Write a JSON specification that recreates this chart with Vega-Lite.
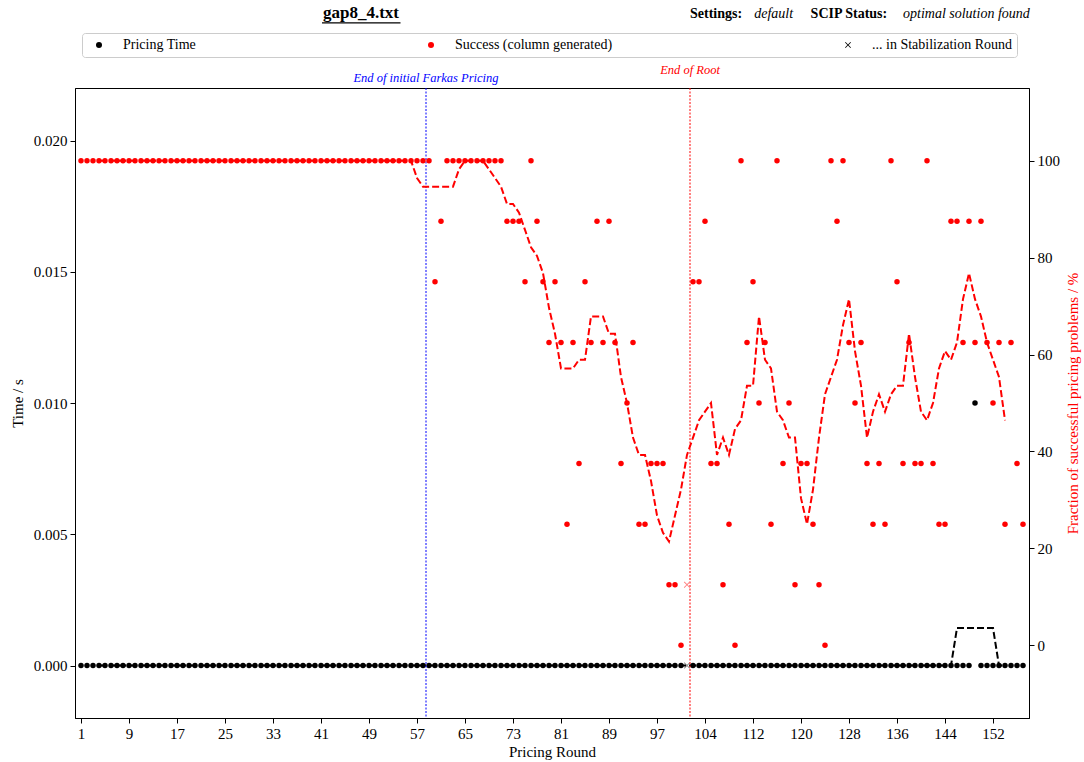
{
"$schema": "https://vega.github.io/schema/vega-lite/v6.json",
"width": 954, "height": 630,
"autosize": {"type": "none"},
"padding": {"left": 75, "top": 88, "right": 55, "bottom": 44},
"background": "white",
"config": {
  "font": "Liberation Serif",
  "view": {"stroke": "black", "strokeWidth": 1},
  "axis": {"grid": false, "domainColor": "black", "tickColor": "black", "labelColor": "black", "titleColor": "black", "labelFontSize": 15, "titleFontSize": 15, "titleFontWeight": "normal", "tickSize": 5, "labelPadding": 3, "labelFont": "Liberation Serif", "titleFont": "Liberation Serif"}
},
"datasets": {
"pts": [
{"i":0,"t":0,"s":100,"st":0},{"i":1,"t":0,"s":100,"st":0},{"i":2,"t":0,"s":100,"st":0},{"i":3,"t":0,"s":100,"st":0},{"i":4,"t":0,"s":100,"st":0},{"i":5,"t":0,"s":100,"st":0},{"i":6,"t":0,"s":100,"st":0},{"i":7,"t":0,"s":100,"st":0},{"i":8,"t":0,"s":100,"st":0},{"i":9,"t":0,"s":100,"st":0},
{"i":10,"t":0,"s":100,"st":0},{"i":11,"t":0,"s":100,"st":0},{"i":12,"t":0,"s":100,"st":0},{"i":13,"t":0,"s":100,"st":0},{"i":14,"t":0,"s":100,"st":0},{"i":15,"t":0,"s":100,"st":0},{"i":16,"t":0,"s":100,"st":0},{"i":17,"t":0,"s":100,"st":0},{"i":18,"t":0,"s":100,"st":0},{"i":19,"t":0,"s":100,"st":0},
{"i":20,"t":0,"s":100,"st":0},{"i":21,"t":0,"s":100,"st":0},{"i":22,"t":0,"s":100,"st":0},{"i":23,"t":0,"s":100,"st":0},{"i":24,"t":0,"s":100,"st":0},{"i":25,"t":0,"s":100,"st":0},{"i":26,"t":0,"s":100,"st":0},{"i":27,"t":0,"s":100,"st":0},{"i":28,"t":0,"s":100,"st":0},{"i":29,"t":0,"s":100,"st":0},
{"i":30,"t":0,"s":100,"st":0},{"i":31,"t":0,"s":100,"st":0},{"i":32,"t":0,"s":100,"st":0},{"i":33,"t":0,"s":100,"st":0},{"i":34,"t":0,"s":100,"st":0},{"i":35,"t":0,"s":100,"st":0},{"i":36,"t":0,"s":100,"st":0},{"i":37,"t":0,"s":100,"st":0},{"i":38,"t":0,"s":100,"st":0},{"i":39,"t":0,"s":100,"st":0},
{"i":40,"t":0,"s":100,"st":0},{"i":41,"t":0,"s":100,"st":0},{"i":42,"t":0,"s":100,"st":0},{"i":43,"t":0,"s":100,"st":0},{"i":44,"t":0,"s":100,"st":0},{"i":45,"t":0,"s":100,"st":0},{"i":46,"t":0,"s":100,"st":0},{"i":47,"t":0,"s":100,"st":0},{"i":48,"t":0,"s":100,"st":0},{"i":49,"t":0,"s":100,"st":0},
{"i":50,"t":0,"s":100,"st":0},{"i":51,"t":0,"s":100,"st":0},{"i":52,"t":0,"s":100,"st":0},{"i":53,"t":0,"s":100,"st":0},{"i":54,"t":0,"s":100,"st":0},{"i":55,"t":0,"s":100,"st":0},{"i":56,"t":0,"s":100,"st":0},{"i":57,"t":0,"s":100,"st":0},{"i":58,"t":0,"s":100,"st":0},{"i":59,"t":0,"s":75,"st":0},
{"i":60,"t":0,"s":87.5,"st":0},{"i":61,"t":0,"s":100,"st":0},{"i":62,"t":0,"s":100,"st":0},{"i":63,"t":0,"s":100,"st":0},{"i":64,"t":0,"s":100,"st":0},{"i":65,"t":0,"s":100,"st":0},{"i":66,"t":0,"s":100,"st":0},{"i":67,"t":0,"s":100,"st":0},{"i":68,"t":0,"s":100,"st":0},{"i":69,"t":0,"s":100,"st":0},
{"i":70,"t":0,"s":100,"st":0},{"i":71,"t":0,"s":87.5,"st":0},{"i":72,"t":0,"s":87.5,"st":0},{"i":73,"t":0,"s":87.5,"st":0},{"i":74,"t":0,"s":75,"st":0},{"i":75,"t":0,"s":100,"st":0},{"i":76,"t":0,"s":87.5,"st":0},{"i":77,"t":0,"s":75,"st":0},{"i":78,"t":0,"s":62.5,"st":0},{"i":79,"t":0,"s":75,"st":0},
{"i":80,"t":0,"s":62.5,"st":0},{"i":81,"t":0,"s":25,"st":0},{"i":82,"t":0,"s":62.5,"st":0},{"i":83,"t":0,"s":37.5,"st":0},{"i":84,"t":0,"s":75,"st":0},{"i":85,"t":0,"s":62.5,"st":0},{"i":86,"t":0,"s":87.5,"st":0},{"i":87,"t":0,"s":62.5,"st":0},{"i":88,"t":0,"s":87.5,"st":0},{"i":89,"t":0,"s":62.5,"st":0},
{"i":90,"t":0,"s":37.5,"st":0},{"i":91,"t":0,"s":50,"st":0},{"i":92,"t":0,"s":62.5,"st":0},{"i":93,"t":0,"s":25,"st":0},{"i":94,"t":0,"s":25,"st":0},{"i":95,"t":0,"s":37.5,"st":0},{"i":96,"t":0,"s":37.5,"st":0},{"i":97,"t":0,"s":37.5,"st":0},{"i":98,"t":0,"s":12.5,"st":0},{"i":99,"t":0,"s":12.5,"st":0},
{"i":100,"t":0,"s":0,"st":0},{"i":101,"t":0,"s":12.5,"st":1},{"i":102,"t":0,"s":75,"st":0},{"i":103,"t":0,"s":75,"st":0},{"i":104,"t":0,"s":87.5,"st":0},{"i":105,"t":0,"s":37.5,"st":0},{"i":106,"t":0,"s":37.5,"st":0},{"i":107,"t":0,"s":12.5,"st":0},{"i":108,"t":0,"s":25,"st":0},{"i":109,"t":0,"s":0,"st":0},
{"i":110,"t":0,"s":100,"st":0},{"i":111,"t":0,"s":62.5,"st":0},{"i":112,"t":0,"s":75,"st":0},{"i":113,"t":0,"s":50,"st":0},{"i":114,"t":0,"s":62.5,"st":0},{"i":115,"t":0,"s":25,"st":0},{"i":116,"t":0,"s":100,"st":0},{"i":117,"t":0,"s":37.5,"st":0},{"i":118,"t":0,"s":50,"st":0},{"i":119,"t":0,"s":12.5,"st":0},
{"i":120,"t":0,"s":37.5,"st":0},{"i":121,"t":0,"s":37.5,"st":0},{"i":122,"t":0,"s":25,"st":0},{"i":123,"t":0,"s":12.5,"st":0},{"i":124,"t":0,"s":0,"st":0},{"i":125,"t":0,"s":100,"st":0},{"i":126,"t":0,"s":87.5,"st":0},{"i":127,"t":0,"s":100,"st":0},{"i":128,"t":0,"s":62.5,"st":0},{"i":129,"t":0,"s":50,"st":0},
{"i":130,"t":0,"s":62.5,"st":0},{"i":131,"t":0,"s":37.5,"st":0},{"i":132,"t":0,"s":25,"st":0},{"i":133,"t":0,"s":37.5,"st":0},{"i":134,"t":0,"s":25,"st":0},{"i":135,"t":0,"s":100,"st":0},{"i":136,"t":0,"s":75,"st":0},{"i":137,"t":0,"s":37.5,"st":0},{"i":138,"t":0,"s":62.5,"st":0},{"i":139,"t":0,"s":37.5,"st":0},
{"i":140,"t":0,"s":37.5,"st":0},{"i":141,"t":0,"s":100,"st":0},{"i":142,"t":0,"s":37.5,"st":0},{"i":143,"t":0,"s":25,"st":0},{"i":144,"t":0,"s":25,"st":0},{"i":145,"t":0,"s":87.5,"st":0},{"i":146,"t":0,"s":87.5,"st":0},{"i":147,"t":0,"s":62.5,"st":0},{"i":148,"t":0,"s":87.5,"st":0},{"i":149,"t":0.01,"s":62.5,"st":0},
{"i":150,"t":0,"s":87.5,"st":0},{"i":151,"t":0,"s":62.5,"st":0},{"i":152,"t":0,"s":50,"st":0},{"i":153,"t":0,"s":62.5,"st":0},{"i":154,"t":0,"s":25,"st":0},{"i":155,"t":0,"s":62.5,"st":0},{"i":156,"t":0,"s":37.5,"st":0},{"i":157,"t":0,"s":25,"st":0}
],
"roll": [
{"i":3,"s":100,"t":0},{"i":4,"s":100,"t":0},{"i":5,"s":100,"t":0},{"i":6,"s":100,"t":0},{"i":7,"s":100,"t":0},{"i":8,"s":100,"t":0},{"i":9,"s":100,"t":0},
{"i":10,"s":100,"t":0},{"i":11,"s":100,"t":0},{"i":12,"s":100,"t":0},{"i":13,"s":100,"t":0},{"i":14,"s":100,"t":0},{"i":15,"s":100,"t":0},{"i":16,"s":100,"t":0},{"i":17,"s":100,"t":0},{"i":18,"s":100,"t":0},{"i":19,"s":100,"t":0},
{"i":20,"s":100,"t":0},{"i":21,"s":100,"t":0},{"i":22,"s":100,"t":0},{"i":23,"s":100,"t":0},{"i":24,"s":100,"t":0},{"i":25,"s":100,"t":0},{"i":26,"s":100,"t":0},{"i":27,"s":100,"t":0},{"i":28,"s":100,"t":0},{"i":29,"s":100,"t":0},
{"i":30,"s":100,"t":0},{"i":31,"s":100,"t":0},{"i":32,"s":100,"t":0},{"i":33,"s":100,"t":0},{"i":34,"s":100,"t":0},{"i":35,"s":100,"t":0},{"i":36,"s":100,"t":0},{"i":37,"s":100,"t":0},{"i":38,"s":100,"t":0},{"i":39,"s":100,"t":0},
{"i":40,"s":100,"t":0},{"i":41,"s":100,"t":0},{"i":42,"s":100,"t":0},{"i":43,"s":100,"t":0},{"i":44,"s":100,"t":0},{"i":45,"s":100,"t":0},{"i":46,"s":100,"t":0},{"i":47,"s":100,"t":0},{"i":48,"s":100,"t":0},{"i":49,"s":100,"t":0},
{"i":50,"s":100,"t":0},{"i":51,"s":100,"t":0},{"i":52,"s":100,"t":0},{"i":53,"s":100,"t":0},{"i":54,"s":100,"t":0},{"i":55,"s":100,"t":0},{"i":56,"s":96.43,"t":0},{"i":57,"s":94.64,"t":0},{"i":58,"s":94.64,"t":0},{"i":59,"s":94.64,"t":0},
{"i":60,"s":94.64,"t":0},{"i":61,"s":94.64,"t":0},{"i":62,"s":94.64,"t":0},{"i":63,"s":98.21,"t":0},{"i":64,"s":100,"t":0},{"i":65,"s":100,"t":0},{"i":66,"s":100,"t":0},{"i":67,"s":100,"t":0},{"i":68,"s":98.21,"t":0},{"i":69,"s":96.43,"t":0},
{"i":70,"s":94.64,"t":0},{"i":71,"s":91.07,"t":0},{"i":72,"s":91.07,"t":0},{"i":73,"s":89.29,"t":0},{"i":74,"s":85.71,"t":0},{"i":75,"s":82.14,"t":0},{"i":76,"s":80.36,"t":0},{"i":77,"s":76.79,"t":0},{"i":78,"s":69.64,"t":0},{"i":79,"s":64.29,"t":0},
{"i":80,"s":57.14,"t":0},{"i":81,"s":57.14,"t":0},{"i":82,"s":57.14,"t":0},{"i":83,"s":58.93,"t":0},{"i":84,"s":58.93,"t":0},{"i":85,"s":67.86,"t":0},{"i":86,"s":67.86,"t":0},{"i":87,"s":67.86,"t":0},{"i":88,"s":64.29,"t":0},{"i":89,"s":64.29,"t":0},
{"i":90,"s":55.36,"t":0},{"i":91,"s":50,"t":0},{"i":92,"s":42.86,"t":0},{"i":93,"s":39.29,"t":0},{"i":94,"s":39.29,"t":0},{"i":95,"s":33.93,"t":0},{"i":96,"s":26.79,"t":0},{"i":97,"s":23.21,"t":0},{"i":98,"s":21.43,"t":0},{"i":99,"s":26.79,"t":0},
{"i":100,"s":32.14,"t":0},{"i":101,"s":39.29,"t":0},{"i":102,"s":42.86,"t":0},{"i":103,"s":46.43,"t":0},{"i":104,"s":48.21,"t":0},{"i":105,"s":50,"t":0},{"i":106,"s":39.29,"t":0},{"i":107,"s":42.86,"t":0},{"i":108,"s":39.29,"t":0},{"i":109,"s":44.64,"t":0},
{"i":110,"s":46.43,"t":0},{"i":111,"s":53.57,"t":0},{"i":112,"s":53.57,"t":0},{"i":113,"s":67.86,"t":0},{"i":114,"s":58.93,"t":0},{"i":115,"s":57.14,"t":0},{"i":116,"s":48.21,"t":0},{"i":117,"s":46.43,"t":0},{"i":118,"s":42.86,"t":0},{"i":119,"s":42.86,"t":0},
{"i":120,"s":30.36,"t":0},{"i":121,"s":25,"t":0},{"i":122,"s":32.14,"t":0},{"i":123,"s":42.86,"t":0},{"i":124,"s":51.79,"t":0},{"i":125,"s":55.36,"t":0},{"i":126,"s":58.93,"t":0},{"i":127,"s":66.07,"t":0},{"i":128,"s":71.43,"t":0},{"i":129,"s":60.71,"t":0},
{"i":130,"s":53.57,"t":0},{"i":131,"s":42.86,"t":0},{"i":132,"s":48.21,"t":0},{"i":133,"s":51.79,"t":0},{"i":134,"s":48.21,"t":0},{"i":135,"s":51.79,"t":0},{"i":136,"s":53.57,"t":0},{"i":137,"s":53.57,"t":0},{"i":138,"s":64.29,"t":0},{"i":139,"s":55.36,"t":0},
{"i":140,"s":48.21,"t":0},{"i":141,"s":46.43,"t":0},{"i":142,"s":50,"t":0},{"i":143,"s":57.14,"t":0},{"i":144,"s":60.71,"t":0},{"i":145,"s":58.93,"t":0},{"i":146,"s":62.5,"t":0.0014286},{"i":147,"s":71.43,"t":0.0014286},{"i":148,"s":76.79,"t":0.0014286},{"i":149,"s":71.43,"t":0.0014286},
{"i":150,"s":67.86,"t":0.0014286},{"i":151,"s":62.5,"t":0.0014286},{"i":152,"s":58.93,"t":0.0014286},{"i":153,"s":55.36,"t":0},{"i":154,"s":46.43,"t":0}
],
"notes": [
{"lab":"gap8_4.txt","i":46.67,"t":0.02465},
{"lab":"Settings:","i":101.5,"t":0.02465},
{"lab":"default","i":112.2,"t":0.02465},
{"lab":"SCIP Status:","i":121.6,"t":0.02465},
{"lab":"optimal solution found","i":137,"t":0.02465},
{"lab":"End of initial Farkas Pricing","i":57.5,"t":0.02223},
{"lab":"End of Root","i":101.5,"t":0.02255}
],
"vlines": [
{"name":"farkas","i":57.5},
{"name":"root","i":101.5}
],
"uline": [{"i":40.17,"i2":53.25,"t":0.02448}]
},
"encoding": {
  "x": {"field": "i", "type": "quantitative", "scale": {"domain": [-1, 158], "nice": false, "zero": false},
        "axis": {"values": [0,8,16,24,32,40,48,56,64,72,80,88,96,104,112,120,128,136,144,152], "labelExpr": "format(datum.value > 100 ? datum.value : datum.value + 1, 'd')", "title": "Pricing Round", "titlePadding": 3}}
},
"layer": [
{
 "encoding": {
   "y": {"field": "t", "type": "quantitative", "scale": {"domain": [-0.002, 0.022], "nice": false, "zero": false},
         "axis": {"values": [0, 0.005, 0.01, 0.015, 0.02], "format": ".3f", "title": "Time / s", "titlePadding": 8}}
 },
 "layer": [
  {
   "data": {"name": "pts"},
   "transform": [{"filter": "datum.st == 0"}],
   "mark": {"type": "point", "filled": true, "size": 30, "opacity": 1},
   "encoding": {
     "color": {"datum": "Pricing Time", "type": "nominal",
               "scale": {"domain": ["Pricing Time", "Success (column generated)", "... in Stabilization Round"], "range": ["black", "red", "black"]},
               "legend": {"title": null, "orient": "none", "legendX": 7, "legendY": -55, "direction": "horizontal", "columns": 3, "gridAlign": "each", "columnPadding": 223, "padding": 5, "fillColor": "white", "strokeColor": "#cccccc", "cornerRadius": 3, "labelFontSize": 14, "symbolSize": 36, "symbolOffset": 5, "labelOffset": 17, "symbolOpacity": 1}},
     "shape": {"datum": "Pricing Time", "type": "nominal",
               "scale": {"domain": ["Pricing Time", "Success (column generated)", "... in Stabilization Round"], "range": ["circle", "circle", "M-1,-0.8L-0.8,-1L0,-0.2L0.8,-1L1,-0.8L0.2,0L1,0.8L0.8,1L0,0.2L-0.8,1L-1,0.8L-0.2,0Z"]},
               "legend": {"title": null, "orient": "none", "legendX": 7, "legendY": -55, "direction": "horizontal", "columns": 3, "gridAlign": "each", "columnPadding": 223, "padding": 5, "fillColor": "white", "strokeColor": "#cccccc", "cornerRadius": 3, "labelFontSize": 14, "symbolSize": 36, "symbolOffset": 5, "labelOffset": 17, "symbolOpacity": 1}}
   }
  },
  {
   "data": {"name": "pts"},
   "transform": [{"filter": "datum.st == 1"}],
   "mark": {"type": "point", "filled": true, "size": 40, "color": "#8c8c8c", "opacity": 1},
   "encoding": {
     "shape": {"datum": "... in Stabilization Round", "type": "nominal"}
   }
  },
  {
   "data": {"name": "roll"},
   "mark": {"type": "line", "color": "black", "strokeWidth": 2, "strokeDash": [7, 3]},
   "encoding": {}
  },
  {
   "data": {"name": "vlines"},
   "mark": {"type": "rule", "strokeWidth": 1, "strokeDash": [2, 1.5]},
   "encoding": {
     "y": null,
     "stroke": {"field": "name", "type": "nominal", "scale": {"domain": ["farkas", "root"], "range": ["blue", "red"]}, "legend": null}
   }
  },
  {
   "data": {"name": "notes"},
   "transform": [{"filter": "datum.lab == 'gap8_4.txt'"}],
   "mark": {"type": "text", "fontWeight": "bold", "fontSize": 17, "align": "center", "baseline": "alphabetic", "color": "black"},
   "encoding": {"text": {"field": "lab"}}
  },
  {
   "data": {"name": "uline"},
   "mark": {"type": "rule", "color": "black", "strokeWidth": 1.2},
   "encoding": {"x2": {"field": "i2"}}
  },
  {
   "data": {"name": "notes"},
   "transform": [{"filter": "datum.lab == 'Settings:' || datum.lab == 'SCIP Status:'"}],
   "mark": {"type": "text", "fontWeight": "bold", "fontSize": 14, "align": "left", "baseline": "alphabetic", "color": "black"},
   "encoding": {"text": {"field": "lab"}}
  },
  {
   "data": {"name": "notes"},
   "transform": [{"filter": "datum.lab == 'default' || datum.lab == 'optimal solution found'"}],
   "mark": {"type": "text", "fontStyle": "italic", "fontSize": 14, "align": "left", "baseline": "alphabetic", "color": "black"},
   "encoding": {"text": {"field": "lab"}}
  },
  {
   "data": {"name": "notes"},
   "transform": [{"filter": "datum.lab == 'End of initial Farkas Pricing'"}],
   "mark": {"type": "text", "fontStyle": "italic", "fontSize": 12.5, "align": "center", "baseline": "alphabetic", "color": "blue"},
   "encoding": {"text": {"field": "lab"}}
  },
  {
   "data": {"name": "notes"},
   "transform": [{"filter": "datum.lab == 'End of Root'"}],
   "mark": {"type": "text", "fontStyle": "italic", "fontSize": 12.5, "align": "center", "baseline": "alphabetic", "color": "red"},
   "encoding": {"text": {"field": "lab"}}
  }
 ]
},
{
 "encoding": {
   "y": {"field": "s", "type": "quantitative", "scale": {"domain": [-15, 115], "nice": false, "zero": false},
         "axis": {"orient": "right", "values": [0, 20, 40, 60, 80, 100], "title": "Fraction of successful pricing problems / %", "titleColor": "red", "titleAngle": 270, "titleBaseline": "top", "titlePadding": 6}}
 },
 "layer": [
  {
   "data": {"name": "pts"},
   "transform": [{"filter": "datum.st == 0"}],
   "mark": {"type": "point", "filled": true, "size": 30, "opacity": 1},
   "encoding": {
     "color": {"datum": "Success (column generated)", "type": "nominal"},
     "shape": {"datum": "Success (column generated)", "type": "nominal"}
   }
  },
  {
   "data": {"name": "pts"},
   "transform": [{"filter": "datum.st == 1"}],
   "mark": {"type": "point", "filled": true, "size": 40, "color": "#ff8080", "opacity": 1},
   "encoding": {
     "shape": {"datum": "... in Stabilization Round", "type": "nominal"}
   }
  },
  {
   "data": {"name": "roll"},
   "mark": {"type": "line", "color": "red", "strokeWidth": 2, "strokeDash": [7, 3]},
   "encoding": {}
  }
 ]
}
],
"resolve": {"scale": {"y": "independent"}}
}
